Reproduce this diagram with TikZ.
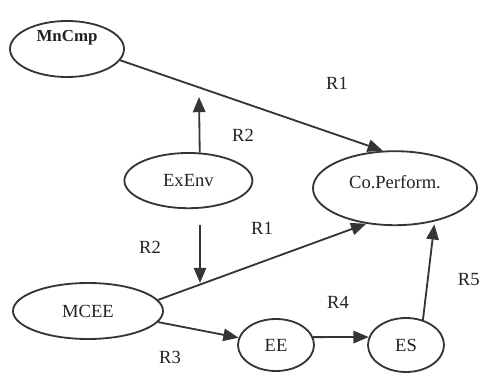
\documentclass[tikz,border=0pt]{standalone}
\usepackage{fontspec}
\setmainfont{Liberation Serif}
\usepackage{xcolor}
\usetikzlibrary{arrows.meta, shapes.geometric}

\definecolor{inkgray}{HTML}{353535}
\definecolor{textgray}{HTML}{222222}

\begin{document}
\begin{tikzpicture}[
    font=\fontsize{13.2}{15}\selectfont,
    >={Triangle[length=3.8mm, width=3.1mm]},
    every path/.style={line width=1.3pt},
    ell/.style={
        draw=inkgray,
        ellipse,
        inner sep=0pt,
        text=textgray
    },
    rel/.style={
        text=textgray
    },
    link/.style={
        ->,
        draw=inkgray,
        fill=inkgray
    }
]

\useasboundingbox (0,0) rectangle (11.975,9.325);

% ==================== Constructs ====================
\node[ell, minimum width=2.85cm, minimum height=1.4cm,
      label={[font=\fontsize{12}{14}\selectfont\bfseries, text=textgray, yshift=0.275cm]center:MnCmp}]
      (mncmp) at (1.675,8.1) {};
\node[ell, minimum width=3.2cm, minimum height=1.38cm] (exenv) at (4.71,4.81) {ExEnv};
\node[ell, minimum width=4.1cm, minimum height=1.85cm,
      label={[text=textgray, yshift=0.15cm]center:Co.Perform.}]
      (coperf) at (9.875,4.62) {};
\node[ell, minimum width=3.75cm, minimum height=1.4cm] (mcee) at (2.2,1.55) {MCEE};
\node[ell, minimum width=1.9cm, minimum height=1.3cm] (ee) at (6.9,0.7) {EE};
\node[ell, minimum width=1.9cm, minimum height=1.35cm] (es) at (10.15,0.7) {ES};

% free arrow ends around ExEnv
\coordinate (uptip) at (4.975,6.9);
\coordinate (dntail) at (5.0,3.7);
\coordinate (dntip) at (5.0,2.25);

% ==================== Relations ====================
\draw[link] (mncmp.-12) -- (coperf.108);
\draw[link] (exenv.68) -- (uptip);
\draw[link] (dntail) -- (dntip);
\draw[link] (mcee.9) -- (coperf.-129);
\draw[link] (mcee.-9) -- (ee.169);
\draw[link] (ee.12) -- (es.168);
\draw[link, shorten >=2pt] (es.56) -- (coperf.-40);

\node[rel] (r1a) at (8.425,7.25) {R1};
\node[rel] (r2a) at (6.075,5.95) {R2};
\node[rel] (r1b) at (6.55,3.625) {R1};
\node[rel] (r2b) at (3.75,3.15) {R2};
\node[rel] (r3) at (4.25,0.4) {R3};
\node[rel] (r4) at (8.45,1.775) {R4};
\node[rel] (r5) at (11.72,2.325) {R5};

\end{tikzpicture}
\end{document}
